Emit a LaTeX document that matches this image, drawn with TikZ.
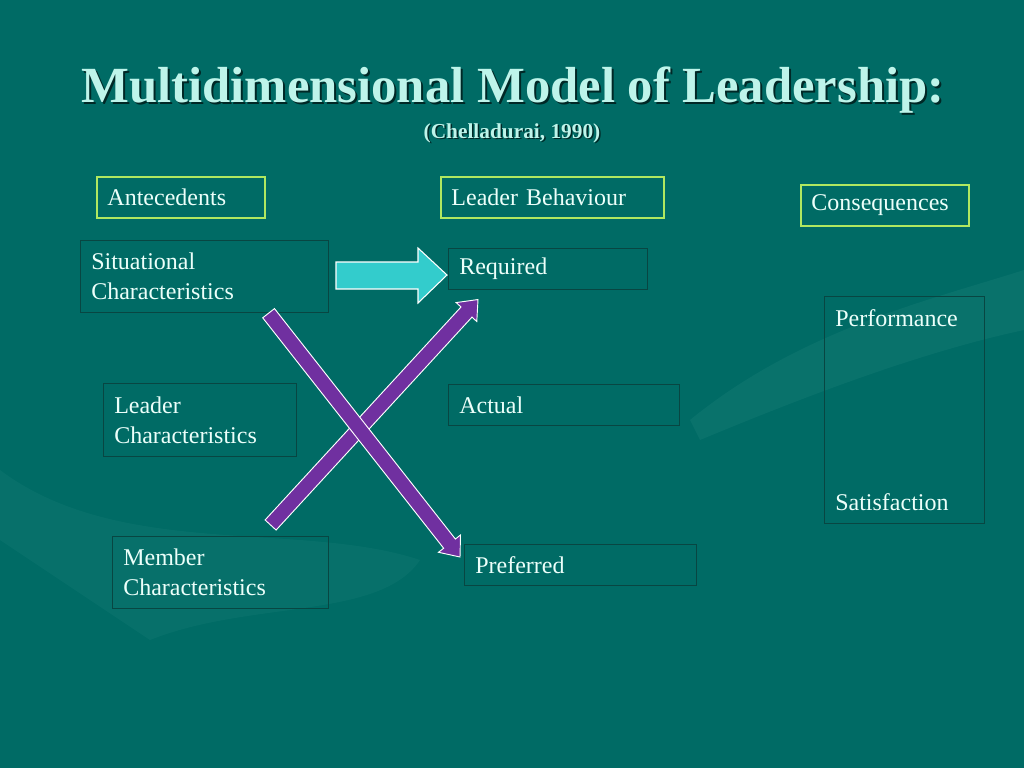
\documentclass[tikz,border=0pt]{standalone}
\usepackage{fontspec}
\setmainfont{Liberation Serif}
\usetikzlibrary{calc}

\definecolor{slidebg}{RGB}{0,107,101}
\definecolor{slidehand}{RGB}{120,200,190}
\definecolor{headline}{RGB}{176,232,96}
\definecolor{boxline}{RGB}{8,70,66}
\definecolor{boxtext}{RGB}{236,255,250}
\definecolor{titletext}{RGB}{190,244,234}
\definecolor{titleshadow}{RGB}{0,40,38}
\definecolor{blockcyan}{RGB}{51,204,204}
\definecolor{crosspurple}{RGB}{112,48,160}

\tikzset{
  box/.style={draw=boxline, line width=0.9pt, anchor=north west, align=left,
    inner xsep=8pt, inner ysep=0pt, text=boxtext, font=\fontsize{18}{22.5}\selectfont},
  headbox/.style={box, draw=headline, line width=1.2pt},
  crossarrow/.style={fill=crosspurple, draw=white, line width=0.7pt, line join=miter}
}

% fat arrow from #1 to #2
\newcommand\crossarrow[2]{%
  \path (#1) coordinate (ca-s) (#2) coordinate (ca-e);
  \coordinate (ca-b) at ($(ca-e)!12.75pt!(ca-s)$);
  \draw[crossarrow] ($(ca-s)!5.6pt!90:(ca-e)$) -- ($(ca-b)!5.6pt!90:(ca-e)$)
    -- ($(ca-b)!10.5pt!90:(ca-e)$) -- (ca-e) -- ($(ca-b)!10.5pt!-90:(ca-e)$)
    -- ($(ca-b)!5.6pt!-90:(ca-e)$) -- ($(ca-s)!5.6pt!-90:(ca-e)$) -- cycle;
}

\begin{document}
\begin{tikzpicture}[x=0.75pt,y=-0.75pt]

  \useasboundingbox (0,0) rectangle (1024,768);
  \fill[slidebg] (0,0) rectangle (1024,768);

  % faded hands in the background
  \fill[slidehand, opacity=0.08] (690,420) .. controls (800,330) and (930,300) .. (1024,270)
    -- (1024,330) .. controls (930,350) and (820,390) .. (700,440) -- cycle;
  \fill[slidehand, opacity=0.06] (0,470) .. controls (120,560) and (300,520) .. (420,560)
    .. controls (380,620) and (250,600) .. (150,640) .. controls (90,600) and (30,560) .. (0,540) -- cycle;

  % title
  \node[text=titleshadow, font=\fontsize{38}{44}\selectfont\bfseries] at (515,92) {Multidimensional Model of Leadership:};
  \node (title) [text=titletext, font=\fontsize{38}{44}\selectfont\bfseries] at (513,90) {Multidimensional Model of Leadership:};
  \node[text=titleshadow, font=\fontsize{16}{19}\selectfont\bfseries] at (513.5,134.5) {(Chelladurai, 1990)};
  \node (cite) [text=titletext, font=\fontsize{16}{19}\selectfont\bfseries] at (512,133) {(Chelladurai, 1990)};

  % column heads
  \node (ante)   [headbox, text width=110pt,   minimum height=30.75pt] at (96,176)  {Antecedents};
  \node (behav)  [headbox, text width=151.25pt, minimum height=30.75pt] at (440,176) {Leader Behaviour};
  \node (conseq) [headbox, text width=110pt,   minimum height=30.75pt] at (800,184) {Consequences};

  % antecedents
  \node (sit)  [box, text width=170pt,    minimum height=54pt]    at (80,240)  {Situational\\Characteristics};
  \node (lead) [box, text width=128.75pt, minimum height=54.75pt] at (103,383) {Leader\\Characteristics};
  \node (mem)  [box, text width=146pt,    minimum height=54pt]    at (112,536) {Member\\Characteristics};

  % leader behaviour
  \node (req)  [box, text width=133.25pt, minimum height=30.75pt] at (448,248) {Required};
  \node (act)  [box, text width=157.25pt, minimum height=30.75pt] at (448,384) {Actual};
  \node (pref) [box, text width=158pt,    minimum height=30.75pt] at (464,544) {Preferred};

  % consequences
  \node (outc) [box, text width=104pt, minimum height=170.25pt] at (824,296) {Performance\\[115pt]Satisfaction};

  % block arrow
  \draw[fill=blockcyan, draw=white, line width=0.8pt]
    (336,262) -- (418,262) -- (418,248) -- (447,275) -- (418,303) -- (418,289) -- (336,289) -- cycle;

  % crossing arrows
  \coordinate (sitfoot) at ([xshift=48pt]sit.south);
  \coordinate (preftip) at ([xshift=-3pt,yshift=-9.75pt]pref.north west);
  \coordinate (memtop)  at ([xshift=37.5pt,yshift=8.25pt]mem.north);
  \coordinate (reqtip)  at ([xshift=22.5pt,yshift=-7pt]req.south west);

  \crossarrow{memtop}{reqtip}
  \crossarrow{sitfoot}{preftip}

\end{tikzpicture}
\end{document}
